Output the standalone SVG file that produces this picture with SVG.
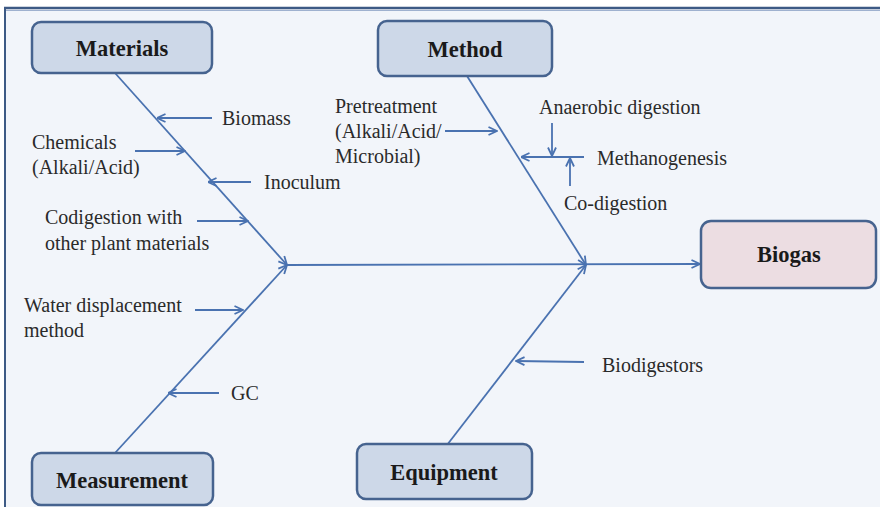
<svg xmlns="http://www.w3.org/2000/svg" width="880" height="515" viewBox="0 0 880 515">
  <style>
    .frame { fill: #f2f5fa; }
    .box { fill: #cdd8e8; stroke: #46638f; stroke-width: 2.5; }
    .box.result { fill: #ecdde2; }
    .title { font-family: "Liberation Serif", "Times New Roman", serif; font-size: 22.5px; font-weight: bold; fill: #1a1a1a; text-anchor: middle; }
    .lbl { font-family: "Liberation Serif", "Times New Roman", serif; font-size: 20px; fill: #2a2a2a; }
    .bone { fill: none; stroke: #4a72b0; stroke-width: 1.8; }
  </style>
  <defs>
    <marker id="vee" viewBox="0 0 10 10" refX="9.5" refY="5" markerWidth="10" markerHeight="10" markerUnits="userSpaceOnUse" orient="auto">
      <path d="M1,1 L9.5,5 L1,9" fill="none" stroke="#4a72b0" stroke-width="1.8"/>
    </marker>
  </defs>

  <!-- page frame -->
  <rect x="0" y="0" width="880" height="515" fill="#ffffff"/>
  <rect class="frame" x="5" y="8" width="875" height="499"/>
  <line x1="4" y1="8" x2="880" y2="8" stroke="#3d5a85" stroke-width="2.5"/>
  <line x1="5" y1="10.5" x2="880" y2="10.5" stroke="#9fb1cf" stroke-width="1.2"/>
  <line x1="5" y1="7" x2="5" y2="507" stroke="#3d5a85" stroke-width="2"/>

  <!-- connectors -->
  <g id="connectors">
    <!-- main spine -->
    <line class="bone" x1="287" y1="265" x2="700" y2="264" marker-end="url(#vee)"/>
    <!-- category bones -->
    <line class="bone" x1="115" y1="73" x2="287" y2="265" marker-end="url(#vee)"/>
    <line class="bone" x1="115" y1="453" x2="287" y2="265" marker-end="url(#vee)"/>
    <line class="bone" x1="467" y1="76" x2="586" y2="265" marker-end="url(#vee)"/>
    <line class="bone" x1="447" y1="445" x2="586" y2="265" marker-end="url(#vee)"/>
    <!-- Materials causes -->
    <line class="bone" x1="212" y1="118" x2="157" y2="118" marker-end="url(#vee)"/>
    <line class="bone" x1="135" y1="151" x2="185" y2="151" marker-end="url(#vee)"/>
    <line class="bone" x1="251" y1="182" x2="208" y2="182" marker-end="url(#vee)"/>
    <line class="bone" x1="197" y1="221" x2="248" y2="221" marker-end="url(#vee)"/>
    <!-- Measurement causes -->
    <line class="bone" x1="195" y1="310" x2="243" y2="310" marker-end="url(#vee)"/>
    <line class="bone" x1="219" y1="393" x2="168" y2="393" marker-end="url(#vee)"/>
    <!-- Method causes -->
    <line class="bone" x1="445" y1="131" x2="497" y2="131" marker-end="url(#vee)"/>
    <line class="bone" x1="584" y1="157" x2="521" y2="157" marker-end="url(#vee)"/>
    <line class="bone" x1="552" y1="123" x2="552" y2="156" marker-end="url(#vee)"/>
    <line class="bone" x1="570" y1="186" x2="570" y2="158" marker-end="url(#vee)"/>
    <!-- Equipment causes -->
    <line class="bone" x1="584" y1="362" x2="516" y2="361" marker-end="url(#vee)"/>
  </g>

  <!-- category nodes -->
  <g id="materials">
    <rect class="box" x="32" y="22" width="180" height="51" rx="9"/>
    <text class="title" x="122" y="56">Materials</text>
  </g>
  <g id="method">
    <rect class="box" x="378" y="21" width="174" height="55" rx="9"/>
    <text class="title" x="465" y="57">Method</text>
  </g>
  <g id="measurement">
    <rect class="box" x="32" y="453" width="181" height="52" rx="9"/>
    <text class="title" x="122" y="488">Measurement</text>
  </g>
  <g id="equipment">
    <rect class="box" x="357" y="444" width="175" height="55" rx="9"/>
    <text class="title" x="444" y="480">Equipment</text>
  </g>
  <g id="biogas">
    <rect class="box result" x="701" y="221" width="175" height="67" rx="10"/>
    <text class="title" x="789" y="262">Biogas</text>
  </g>

  <!-- cause labels -->
  <g id="biomass"><text class="lbl" x="222" y="125">Biomass</text></g>
  <g id="chemicals">
    <text class="lbl" x="32" y="149">Chemicals</text>
    <text class="lbl" x="32" y="174">(Alkali/Acid)</text>
  </g>
  <g id="inoculum"><text class="lbl" x="264" y="189">Inoculum</text></g>
  <g id="codigestion">
    <text class="lbl" x="45" y="224">Codigestion with</text>
    <text class="lbl" x="45" y="250">other plant materials</text>
  </g>
  <g id="water-displacement">
    <text class="lbl" x="24" y="312">Water displacement</text>
    <text class="lbl" x="24" y="337">method</text>
  </g>
  <g id="gc"><text class="lbl" x="231" y="400">GC</text></g>
  <g id="pretreatment">
    <text class="lbl" x="335" y="113">Pretreatment</text>
    <text class="lbl" x="335" y="138">(Alkali/Acid/</text>
    <text class="lbl" x="335" y="163">Microbial)</text>
  </g>
  <g id="anaerobic-digestion"><text class="lbl" x="539" y="114">Anaerobic  digestion</text></g>
  <g id="methanogenesis"><text class="lbl" x="597" y="165">Methanogenesis</text></g>
  <g id="co-digestion"><text class="lbl" x="564" y="210">Co-digestion</text></g>
  <g id="biodigestors"><text class="lbl" x="602" y="372">Biodigestors</text></g>
</svg>
